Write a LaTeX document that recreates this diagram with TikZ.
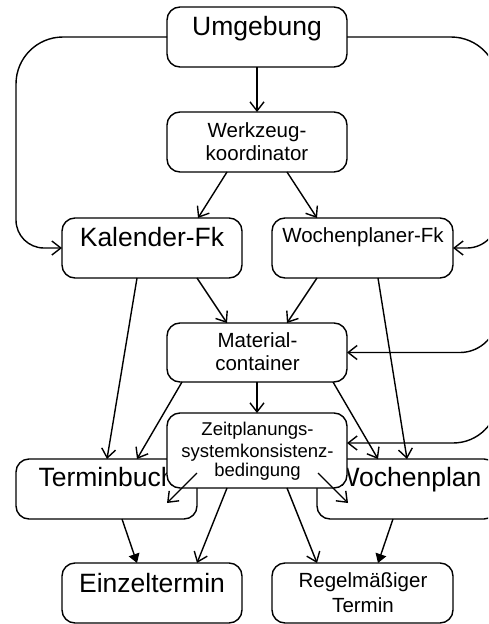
\documentclass[tikz,border=0pt]{standalone}
\usepackage{fontspec}
\setmainfont{Liberation Sans}
\usetikzlibrary{arrows.meta,calc}
\begin{document}
\begin{tikzpicture}[x=1pt,y=-1pt,
  box/.style={draw, line width=1.4pt, rounded corners=13pt, inner sep=0pt, outer sep=0pt, fill=white},
  txt/.style={anchor=base, inner sep=0pt},
  fL/.style={font=\fontsize{26.5}{30}\selectfont},
  fM/.style={font=\fontsize{20.5}{24}\selectfont},
  fS/.style={font=\fontsize{18.5}{22}\selectfont},
  arr/.style={line width=1.4pt, -{Straight Barb[length=9pt,width=14pt]}},
  farr/.style={line width=1.4pt, -{Triangle[length=9pt,width=11pt]}}]
\clip (0,0) rectangle (488,624);
% boxes
\node[box, minimum width=180pt, minimum height=60pt] (umg) at (257,37) {};
\node[box, minimum width=180pt, minimum height=60pt] (wzk) at (257,142) {};
\node[box, minimum width=180pt, minimum height=60pt] (kal) at (152,248) {};
\node[box, minimum width=181pt, minimum height=60pt] (wpf) at (362.5,248) {};
\node[box, minimum width=180pt, minimum height=59pt] (mat) at (257,352.5) {};
\node[box, minimum width=181pt, minimum height=60pt] (tb) at (106.5,489) {};
\node[box, minimum width=180pt, minimum height=60pt] (wp) at (407,489) {};
\node[box, minimum width=180pt, minimum height=60pt] (ein) at (152,593) {};
\node[box, minimum width=181pt, minimum height=60pt] (reg) at (362.5,593) {};
% texts
\node[txt,fL] (umgT) at (257,35) {Umgebung};
\node[txt,fM] (wzkT1) at (257,137) {Werkzeug-};
\node[txt,fM] (wzkT2) at (257,160) {koordinator};
\node[txt,fL] (kalT) at (152,246) {Kalender-Fk};
\node[txt,fM] (wpfT) at (363,242) {Wochenplaner-Fk};
\node[txt,fM] (matT1) at (257.5,347) {Material-};
\node[txt,fM] (matT2) at (257.5,370) {container};
\node[txt,fL] (tbT) at (107,486) {Terminbuch};
\node[txt,fL] (wpT) at (408,486) {Wochenplan};
\node[txt,fL] (einT) at (152,592) {Einzeltermin};
\node[txt,fM] (regT1) at (363,587) {Regelmäßiger};
\node[txt,fM] (regT2) at (363,612) {Termin};
% connectors
\draw[arr] (umg.south) -- (wzk.north);
\draw[arr] ([xshift=-30pt]wzk.south) -- ([xshift=46pt]kal.north);
\draw[arr] ([xshift=30pt]wzk.south) -- ([xshift=-45.5pt]wpf.north);
\draw[arr] ([xshift=45pt]kal.south) -- ([xshift=-30pt]mat.north);
\draw[arr] ([xshift=-45.5pt]wpf.south) -- ([xshift=30pt]mat.north);
\draw[arr] ([xshift=-15pt]kal.south) -- ([xshift=0.5pt]tb.north);
\draw[arr] ([xshift=15.5pt]wpf.south) -- (wp.north);
\draw[arr] ([xshift=-75pt]mat.south) -- ([xshift=30.5pt]tb.north);
\draw[arr] ([xshift=76pt]mat.south) -- ([xshift=-29pt]wp.north);
\draw[farr] ([xshift=15.5pt]tb.south) -- ([xshift=-15pt]ein.north);
\draw[farr] ([xshift=-14pt]wp.south) -- ([xshift=15.5pt]reg.north);
% loops
\draw[arr] (umg.west) -- (63,37) .. controls (37,37) and (16,58) .. (16,84) -- (16,220) .. controls (16,235.5) and (28.5,248) .. (44,248) -- (kal.west);
\draw[arr] (umg.east) -- (451,37) .. controls (477,37) and (498,58) .. (498,84) -- (498,217) .. controls (498,234) and (484,248) .. (467,248) -- (wpf.east);
\draw[arr] (498,84) -- (498,314) .. controls (498,335) and (481,352.5) .. (460,352.5) -- (mat.east);
% Zeit box on top
\node[box, minimum width=180pt, minimum height=75pt] (zeit) at (257,450.5) {};
\node[txt,fS] (zT1) at (257.5,435) {Zeitplanungs-};
\node[txt,fS] (zT2) at (257.5,457) {systemkonsistenz-};
\node[txt,fS] (zT3) at (257.5,476) {bedingung};
\draw[arr] (mat.south) -- (zeit.north);
\draw[arr] (498,84) -- (498,398) .. controls (498,423) and (478,443) .. (453,443) -- ($(zeit.east)+(0,-7.5)$);
\draw[arr] ($(zeit.center)+(-60,22.5)$) -- ($(tb.center)+(60.5,14)$);
\draw[arr] ($(zeit.center)+(61,22.5)$) -- ($(wp.center)+(-59,14)$);
\draw[arr] ([xshift=-30pt]zeit.south) -- ([xshift=45pt]ein.north);
\draw[arr] ([xshift=30pt]zeit.south) -- ([xshift=-45.5pt]reg.north);
\end{tikzpicture}
\end{document}
